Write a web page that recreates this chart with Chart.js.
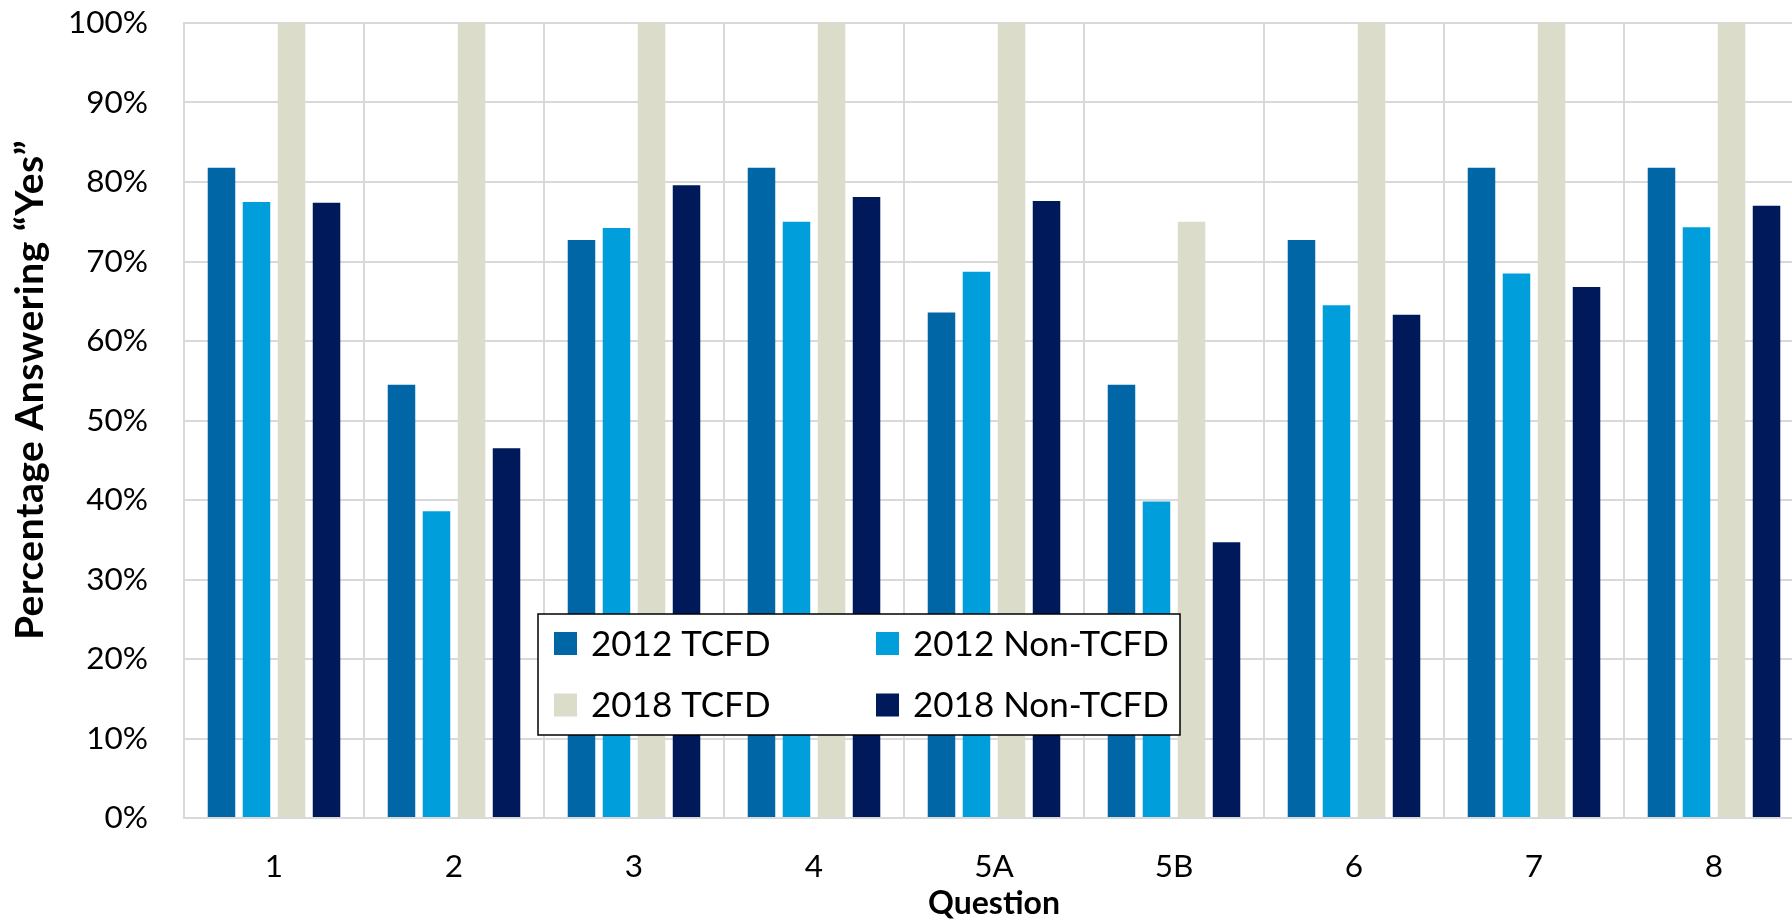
<!DOCTYPE html>
<html>
<head>
<meta charset="utf-8">
<script src="https://cdn.jsdelivr.net/npm/chart.js@4.4.1/dist/chart.umd.min.js"></script>
<style>
html,body{margin:0;padding:0;overflow:hidden;background:#fff;width:1792px;height:923px}
canvas{display:block}
</style>
</head>
<body>
<canvas id="c" width="1812" height="923"></canvas>
<script>
const categories = ['1','2','3','4','5A','5B','6','7','8'];
const seriesNames = ['2012 TCFD','2012 Non-TCFD','2018 TCFD','2018 Non-TCFD'];
const tcfd2012    = [81.8, 54.5, 72.7, 81.8, 63.6, 54.5, 72.7, 81.8, 81.8];
const nonTcfd2012 = [77.5, 38.6, 74.2, 75.0, 68.7, 39.8, 64.5, 68.5, 74.3];
const tcfd2018    = [100, 100, 100, 100, 100, 75.0, 100, 100, 100];
const nonTcfd2018 = [77.4, 46.5, 79.6, 78.1, 77.6, 34.7, 63.3, 66.8, 77.0];
const seriesColors = ['#0066A6','#009FDB','#DCDCCB','#00195B'];
const yTicks = [0,10,20,30,40,50,60,70,80,90,100];
const xTitle = 'Question';
const yTitle = 'Percentage Answering \u201CYes\u201D';

const FONT = 'Lato';

const boxLegend = {
  id: 'boxLegend',
  afterDraw(chart) {
    const ctx = chart.ctx;
    const bx = 538, by = 614, bw = 642, bh = 121;
    ctx.save();
    ctx.fillStyle = '#fff';
    ctx.fillRect(bx, by, bw, bh);
    ctx.strokeStyle = '#000';
    ctx.lineWidth = 1.5;
    ctx.strokeRect(bx, by, bw, bh);
    const cols = [554, 876];
    const rows = [643.5, 705];
    ctx.font = '35px ' + FONT;
    ctx.textBaseline = 'middle';
    ctx.textAlign = 'left';
    chart.data.datasets.forEach((ds, i) => {
      const cx = cols[i % 2], cy = rows[Math.floor(i / 2)];
      ctx.fillStyle = ds.backgroundColor;
      ctx.fillRect(cx, cy - 11.5, 23, 23);
      ctx.fillStyle = '#000';
      ctx.fillText(ds.label, cx + 37, cy + 1);
    });
    ctx.restore();
  }
};

const yTitlePlugin = {
  id: 'yTitlePlugin',
  afterDraw(chart) {
    const ctx = chart.ctx;
    ctx.save();
    ctx.translate(30, 390);
    ctx.rotate(-Math.PI / 2);
    ctx.font = 'bold 39px ' + FONT;
    try { ctx.letterSpacing = '0.5px'; } catch (e) {}
    ctx.fillStyle = '#000';
    ctx.textAlign = 'center';
    ctx.textBaseline = 'middle';
    ctx.fillText(yTitle, 0, 0);
    ctx.restore();
  }
};

const datasets = [tcfd2012, nonTcfd2012, tcfd2018, nonTcfd2018].map((d, i) => ({
  label: seriesNames[i],
  data: d,
  backgroundColor: seriesColors[i],
  borderWidth: 0,
  categoryPercentage: 0.778,
  barPercentage: 0.786
}));

new Chart(document.getElementById('c'), {
  type: 'bar',
  data: { labels: categories, datasets },
  options: {
    responsive: false,
    animation: false,
    devicePixelRatio: 1,
    layout: { padding: { top: 23, right: 8, bottom: 0, left: 0 } },
    plugins: { legend: { display: false }, tooltip: { enabled: false } },
    scales: {
      x: {
        grid: { color: '#d9d9d9', lineWidth: 2, drawTicks: false, offset: true },
        border: { color: '#d9d9d9', width: 2 },
        ticks: { color: '#000', font: { family: FONT, size: 31.5 }, padding: 30, maxRotation: 0 },
        title: { display: true, text: xTitle, color: '#000', font: { family: FONT, size: 32, weight: 'bold' }, padding: 0 },
        afterFit(s) { s.height = 105; }
      },
      y: {
        min: 0, max: 100,
        afterBuildTicks(s) { s.ticks = yTicks.map(v => ({ value: v })); },
        grid: { color: '#d9d9d9', lineWidth: 2, drawTicks: false },
        border: { color: '#d9d9d9', width: 2 },
        ticks: { color: '#000', font: { family: FONT, size: 31.5 }, padding: 36, callback: v => v + '%' },
        afterFit(s) { s.width = 184; s.paddingTop = 0; s.paddingBottom = 0; }
      }
    }
  },
  plugins: [boxLegend, yTitlePlugin]
});
</script>
</body>
</html>
